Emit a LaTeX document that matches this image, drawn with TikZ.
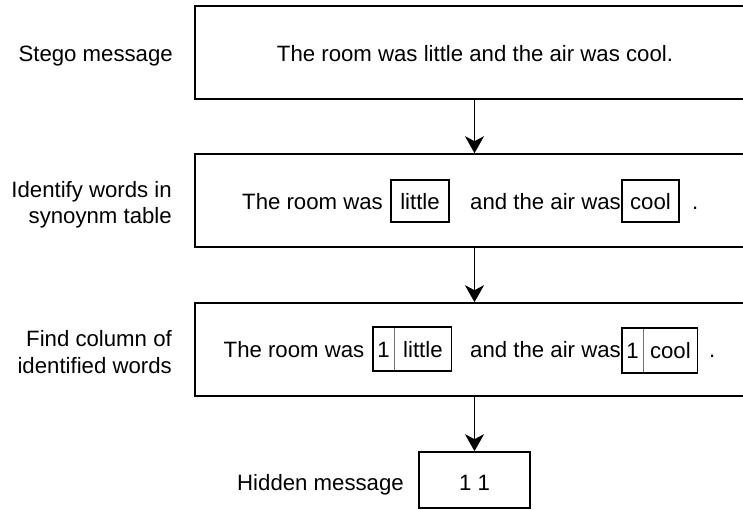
\documentclass[tikz,border=0pt]{standalone}
\usepackage{fontspec}
\setmainfont{Liberation Sans}
\usetikzlibrary{arrows.meta}
\begin{document}
\begin{tikzpicture}[x=1pt,y=-1pt,
  every node/.style={font=\fontsize{22.2}{26}\selectfont},
  txt/.style={inner sep=0pt},
  bigbox/.style={draw, line width=1.6pt, minimum width=559pt, minimum height=93pt, inner sep=0pt},
  wordbox/.style={draw, line width=1.6pt, inner sep=0pt, minimum height=42pt, text height=16pt, text depth=0pt},
  cell/.style={inner sep=0pt, minimum height=44pt, text height=16pt, text depth=0pt},
  divline/.style={draw=black!55, line width=1.3pt},
  outline/.style={draw, line width=1.6pt},
  arr/.style={line width=1.8pt, -{Stealth[length=17pt,width=19pt,inset=5pt]}}
]
\useasboundingbox (0,0) rectangle (743,509);
\clip (0,0) rectangle (743,509);

% big boxes
\node[bigbox] (b1) at (474.5,52.5) {};
\node[bigbox] (b2) at (474.5,200.5) {};
\node[bigbox] (b3) at (474.5,349.5) {};
\node[draw, line width=1.6pt, minimum width=111pt, minimum height=56pt, inner sep=0pt,
      text height=20pt, text depth=0pt] (hb) at (474.5,480) {1 1};

% arrows
\draw[arr] (b1) -- (b2);
\draw[arr] (b2) -- (b3);
\draw[arr] (b3) -- (hb);

% left labels
\node[txt, anchor=base east] (l1) at (173,61.5) {Stego message};
\node[txt, anchor=base east] (l2a) at (172,197) {Identify words in};
\node[txt, anchor=base east] (l2b) at (172,223) {synoynm table};
\node[txt, anchor=base east] (l3a) at (172,346) {Find column of};
\node[txt, anchor=base east] (l3b) at (172,373) {identified words};
\node[txt, anchor=base west] (l4) at (237,490) {Hidden message};

% box 1 text
\node[txt, anchor=base] (s1) at (475,61) {The room was little and the air was cool.};

% box 2 text
\node[txt, anchor=base west] (s2a) at (242,209) {The room was};
\node[wordbox, minimum width=58pt] (w2a) at (420,201) {little};
\node[txt, anchor=base west] (s2b) at (470,209) {and the air was};
\node[wordbox, minimum width=57pt] (w2b) at (650.5,201) {cool};
\node[txt, anchor=base west] (s2c) at (692,209) {.};

% box 3 text
\node[txt, anchor=base west] (s3a) at (223.5,357) {The room was};
\node[cell, minimum width=21pt] (n3a) at (383.5,349) {1};
\node[cell, minimum width=57pt, anchor=west] (w3a) at (n3a.east) {little};
\draw[divline] (n3a.north east) -- (n3a.south east);
\draw[outline] (n3a.north west) rectangle (w3a.south east);
\node[txt, anchor=base west] (s3b) at (470,357) {and the air was};
\node[cell, minimum width=21pt, minimum height=45pt] (n3b) at (632.5,350.5) {1};
\node[cell, minimum width=54pt, minimum height=45pt, anchor=west] (w3b) at (n3b.east) {cool};
\draw[divline] (n3b.north east) -- (n3b.south east);
\draw[outline] (n3b.north west) rectangle (w3b.south east);
\node[txt, anchor=base west] (s3c) at (709,357) {.};
\end{tikzpicture}
\end{document}
